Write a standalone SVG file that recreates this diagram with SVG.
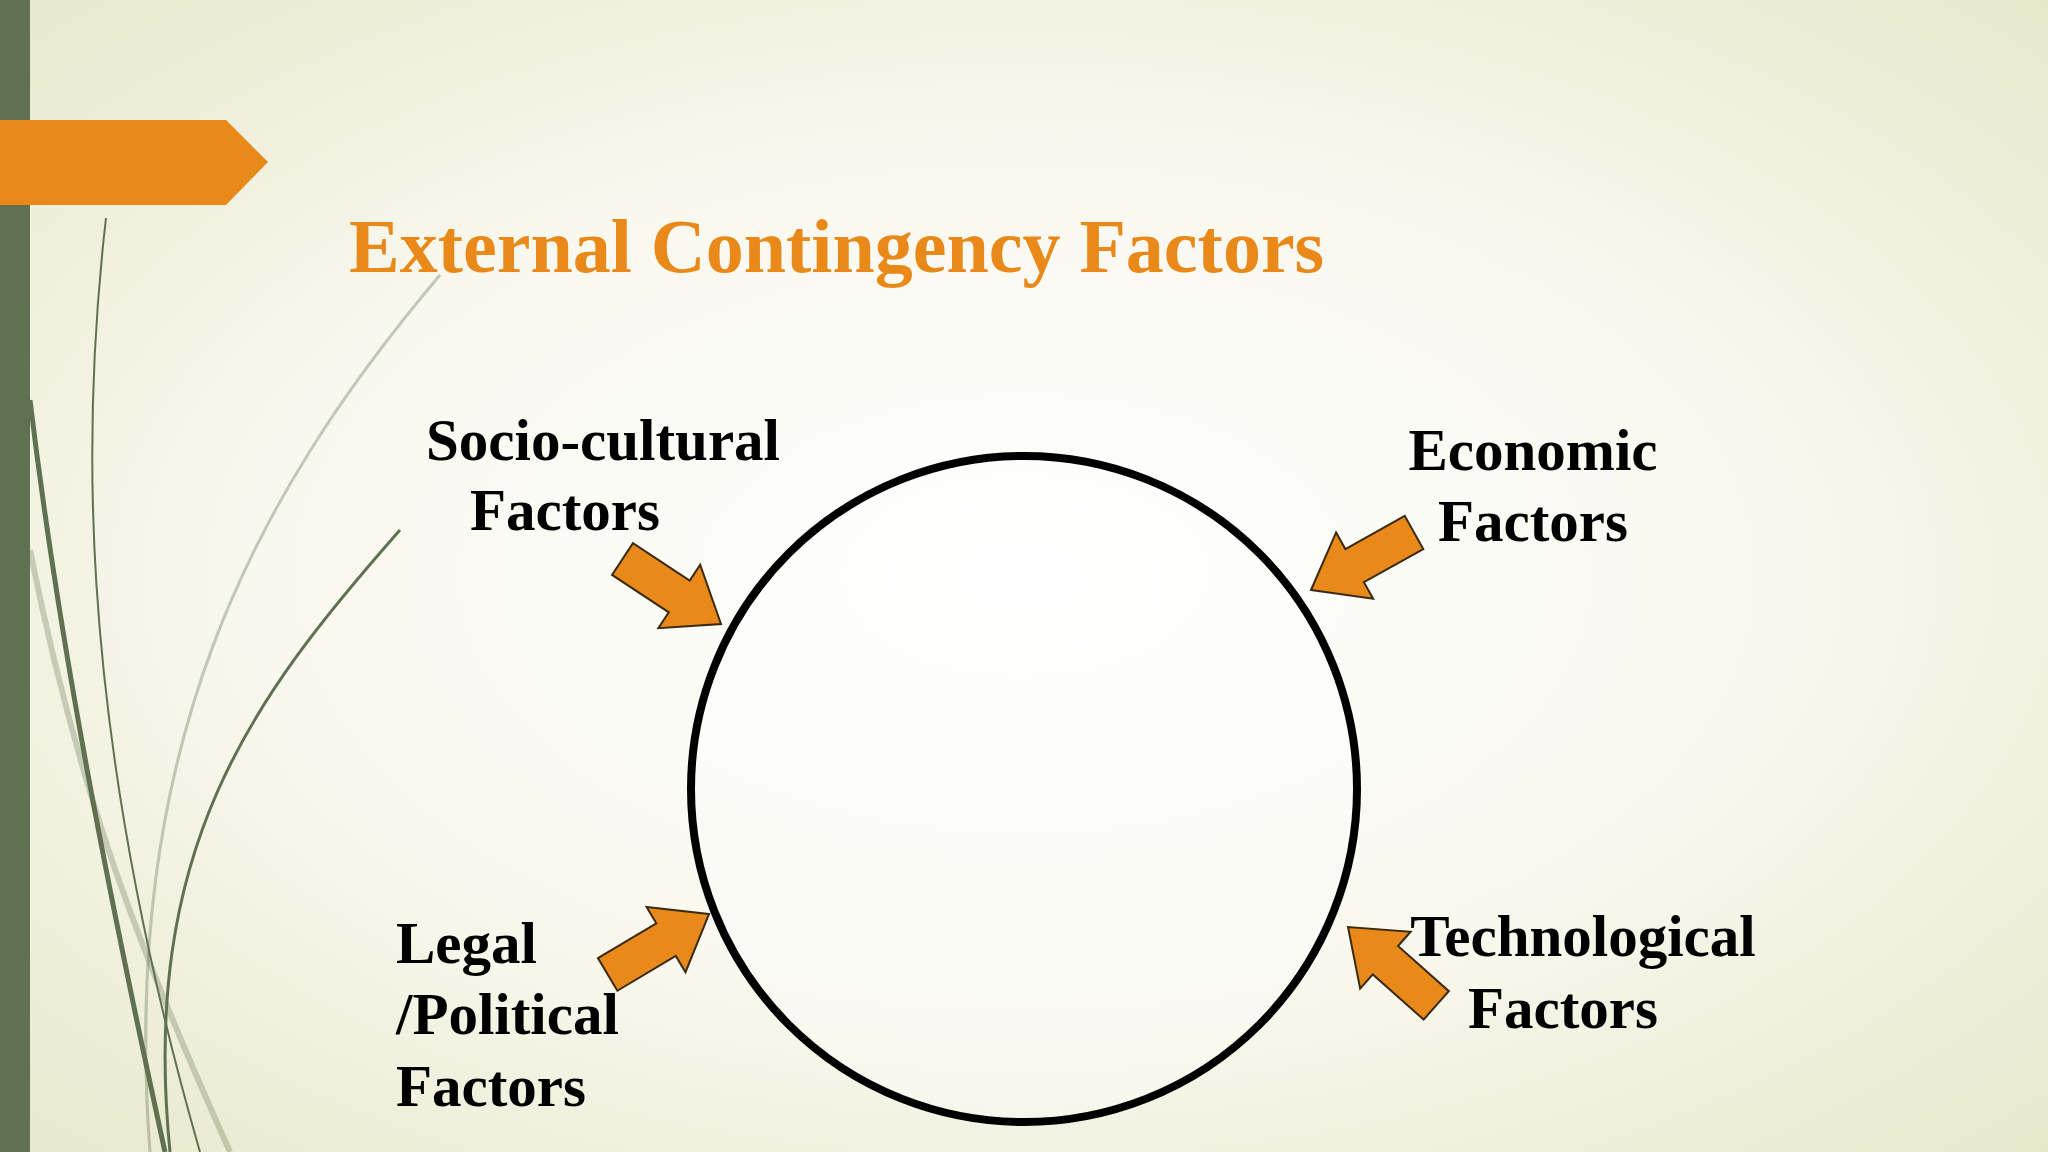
<svg xmlns="http://www.w3.org/2000/svg" width="2048" height="1152" viewBox="0 0 2048 1152">
<defs>
<radialGradient id="bg" cx="0.5" cy="0.5" r="0.75">
<stop offset="0" stop-color="#ffffff"/><stop offset="0.5" stop-color="#f8f8ee"/><stop offset="1" stop-color="#e6e6c8"/>
</radialGradient>
<path id="arr" d="M0,0 L-50,-38 L-50,-19 L-118,-19 L-118,19 L-50,19 L-50,38 Z"/>
</defs>
<style>
.lbl{font-family:"Liberation Serif",serif;font-weight:bold;font-size:59px;fill:#000}
.a{fill:#e8891a;stroke:#3a2a10;stroke-width:2}
.g{fill:none;stroke:#5f7150}
</style>
<rect width="2048" height="1152" fill="url(#bg)"/>
<g id="decor">
<rect x="0" y="0" width="30" height="1152" fill="#5f7150"/>
<path class="g" stroke-width="2" d="M106,218 C85,400 70,700 200,1152"/>
<path class="g" stroke-width="5" d="M30,400 C60,650 110,900 165,1152"/>
<path class="g" stroke-width="3" d="M400,530 C250,700 140,850 170,1152"/>
<path class="g" stroke-width="3" opacity="0.35" d="M440,275 C250,500 120,750 150,1152"/>
<path class="g" stroke-width="6" opacity="0.3" d="M30,550 C80,800 140,950 230,1152"/>
<path d="M0,120 L226,120 L268,162 L226,205 L0,205 Z" fill="#e8891a"/>
</g>
<text x="349" y="272" font-family="Liberation Serif,serif" font-weight="bold" font-size="76" fill="#e8891a">External Contingency Factors</text>
<g id="circle"><circle cx="1024" cy="789" r="333" fill="#fff" fill-opacity="0.3" stroke="#000" stroke-width="8"/></g>
<g id="socio"><text class="lbl" text-anchor="middle" x="603" y="460">Socio-cultural</text><text class="lbl" text-anchor="middle" x="565" y="530">Factors</text></g>
<g id="economic"><text class="lbl" text-anchor="middle" x="1533" y="470">Economic</text><text class="lbl" text-anchor="middle" x="1533" y="541">Factors</text></g>
<g id="legal"><text class="lbl" x="396" y="963">Legal</text><text class="lbl" x="396" y="1034">/Political</text><text class="lbl" x="396" y="1106">Factors</text></g>
<g id="tech"><text class="lbl" text-anchor="middle" x="1583" y="956">Technological</text><text class="lbl" text-anchor="middle" x="1563" y="1028">Factors</text></g>
<g id="connectors">
<use href="#arr" class="a" transform="translate(721,624) rotate(33.4)"/>
<use href="#arr" class="a" transform="translate(1311,590) rotate(150.8)"/>
<use href="#arr" class="a" transform="translate(709,914) rotate(-30.8)"/>
<use href="#arr" class="a" transform="translate(1348,927) rotate(-138.4)"/>
</g>
</svg>
